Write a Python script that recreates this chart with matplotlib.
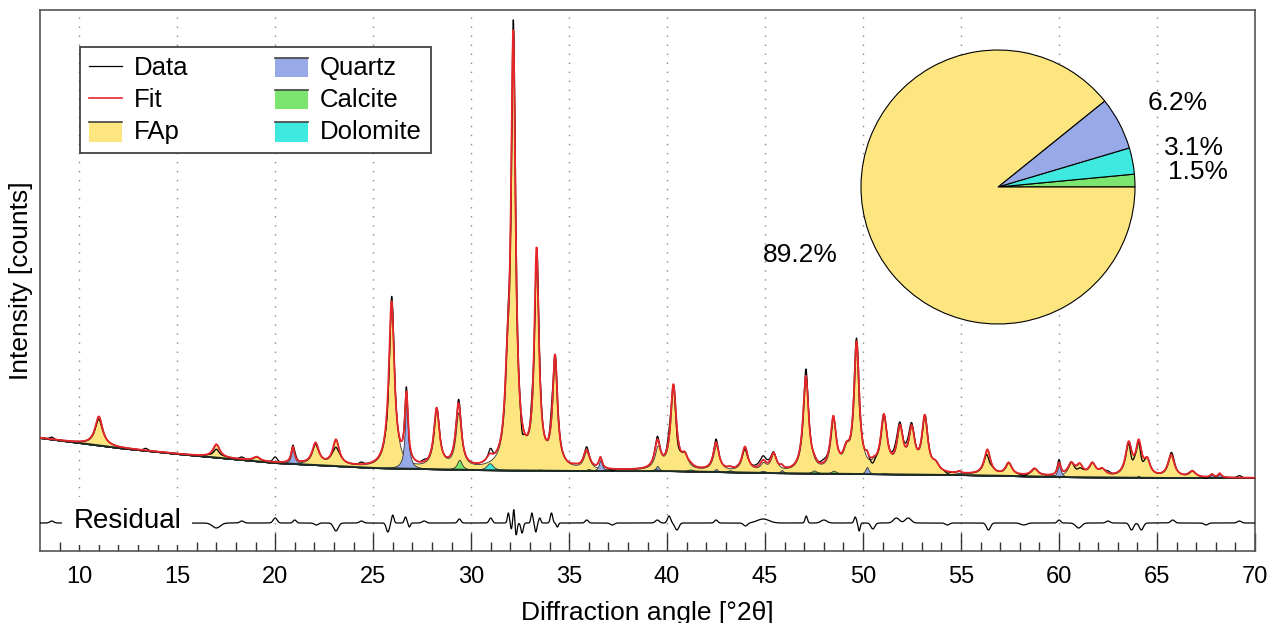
import numpy as np
import matplotlib
matplotlib.use("Agg")
import matplotlib.pyplot as plt
from matplotlib.patches import Patch, Rectangle
from matplotlib.lines import Line2D

plt.rcParams['font.family'] = ['Liberation Sans', 'DejaVu Sans']

# background nodes (deg, intensity)
bg_x = [8, 10, 12, 15, 20, 25, 30, 35, 40, 45, 50, 55, 60, 65, 70]
bg_y = [113, 108, 103, 97, 88, 83, 81, 80, 80, 78, 77, 76, 74, 73, 73]

# phase peak lists: position [deg 2theta], height above background, FWHM
fap_pos = [11.0, 17.0, 19.05, 22.06, 23.1, 25.94, 28.24, 29.35, 31.85, 32.15,
           33.34, 34.28, 35.88, 39.52, 40.32, 40.9, 42.5, 43.97, 44.9, 45.43,
           47.08, 48.48, 49.15, 49.67, 50.55, 51.06, 51.88, 52.48, 53.15, 53.7,
           56.34, 57.43, 58.75, 60.62, 61.05, 61.7, 62.2, 63.55, 64.07, 64.5,
           65.72, 66.8]
fap_h = [29, 13, 4, 21, 25, 165, 58, 54, 60, 424,
         213, 109, 17, 21, 84, 11, 25, 24, 7, 17,
         95, 49, 16, 127, 4, 53, 41, 40, 54, 7,
         25, 12, 7, 12, 10, 12, 6, 32, 30, 14,
         22, 6]
fap_w = [0.46, 0.42, 0.4, 0.4, 0.4, 0.34, 0.34, 0.34, 0.3, 0.28,
         0.28, 0.3, 0.36, 0.36, 0.34, 0.36, 0.36, 0.36, 0.36, 0.36,
         0.34, 0.34, 0.4, 0.32, 0.4, 0.38, 0.38, 0.38, 0.36, 0.4,
         0.38, 0.38, 0.4, 0.4, 0.4, 0.4, 0.4, 0.38, 0.36, 0.36,
         0.4, 0.4]

qtz_pos = [20.9, 26.7, 36.6, 39.5, 42.5, 45.85, 50.2, 54.9, 60.0, 64.05, 67.8, 68.2]
qtz_h = [16, 68, 11, 5, 3, 3, 7, 2, 12, 2, 3, 4]
qtz_w = 0.2

cal_pos = [29.4, 36.0, 39.4, 43.2, 47.5, 48.5]
cal_h = [10, 2, 2, 2, 3, 3]
cal_w = 0.3

dol_pos = [30.95, 33.5, 35.3, 41.2, 44.9, 51.1]
dol_h = [7, 1, 1, 2, 2, 1]
dol_w = 0.4

# residual (data - fit) features: position, amplitude, width
res_pos = [8.6, 11.0, 13.4, 17.0, 18.3, 20.0, 21.0, 22.1, 23.1, 24.4,
           25.75, 26.0, 26.65, 26.85, 27.6, 29.4, 31.0, 31.9, 32.05, 32.18,
           32.3, 32.6, 33.1, 33.3, 33.5, 34.1, 34.4, 35.9, 37.2, 39.5,
           40.1, 40.5, 42.5, 44.0, 44.9, 47.1, 48.0, 49.6, 49.8, 50.5,
           51.7, 52.3, 54.3, 56.4, 58.2, 60.0, 61.0, 62.5, 63.7, 64.2,
           65.8, 67.5, 69.2]
res_a = [2, -3, 2, -5, 2, 5, 3, -2, -8, 2,
         -9, 8, 6, -4, 2, 4, 5, 10, -6, 14,
         -12, -10, 10, -9, 5, 10, -4, 3, -2, 3,
         7, -7, 3, -3, 4, 7, 3, 6, -8, -6,
         5, 5, -2, -7, -2, 3, -5, 2, -7, -7,
         3, -2, 2]
res_w = [0.1, 0.15, 0.1, 0.2, 0.1, 0.1, 0.08, 0.1, 0.12, 0.1,
         0.08, 0.06, 0.06, 0.05, 0.1, 0.08, 0.08, 0.05, 0.04, 0.04,
         0.05, 0.06, 0.05, 0.05, 0.05, 0.06, 0.05, 0.08, 0.1, 0.1,
         0.08, 0.1, 0.08, 0.1, 0.3, 0.06, 0.15, 0.06, 0.05, 0.1,
         0.15, 0.15, 0.1, 0.1, 0.15, 0.08, 0.15, 0.1, 0.1, 0.1,
         0.1, 0.1, 0.1]
res_offset = 28

phases = ['FAp', 'Quartz', 'Calcite', 'Dolomite']
fractions = [89.2, 6.2, 1.5, 3.1]
colors = {'FAp': '#fde680', 'Quartz': '#97a9e6', 'Calcite': '#7ce56f', 'Dolomite': '#3ee9e0'}


def profile(x, pos, h, w):
    w = np.broadcast_to(w, len(pos))
    y = np.zeros_like(x)
    for p, a, fw in zip(pos, h, w):
        y += a / (1 + ((x - p) / (fw / 2)) ** 2)
    return y


x = np.arange(8, 70.001, 0.01)
bg = np.interp(x, bg_x, bg_y)
comp = {
    'FAp': profile(x, fap_pos, fap_h, fap_w),
    'Quartz': profile(x, qtz_pos, qtz_h, qtz_w),
    'Calcite': profile(x, cal_pos, cal_h, cal_w),
    'Dolomite': profile(x, dol_pos, dol_h, dol_w),
}
fit = bg + sum(comp.values())
resid = np.zeros_like(x)
for p, a, w in zip(res_pos, res_a, res_w):
    resid += a * np.exp(-0.5 * ((x - p) / w) ** 2)
data = fit + resid

fig = plt.figure(figsize=(12.71, 6.23), dpi=100)
ax = fig.add_axes([40 / 1271, 72 / 623, 1215 / 1271, 541 / 623])

for xv in range(10, 70, 5):
    ax.axvline(xv, color='#888888', lw=1, ls=(0, (1, 5.5)), zorder=0)

for name in phases:
    ax.fill_between(x, bg, bg + comp[name], facecolor=colors[name],
                    edgecolor='#333333', lw=0.6, zorder=2)
ax.plot(x, bg, color='#1c2b24', lw=1.4, zorder=3)
ax.plot(x, data, color='black', lw=0.9, zorder=4)
ax.plot(x, fit, color='#e8262a', lw=1.3, zorder=5)

ax.plot(x, res_offset + resid, color='black', lw=0.9, zorder=4)
ax.text(12.45, res_offset + 2, 'Residual', fontsize=20, ha='center', va='center', zorder=6,
        bbox=dict(boxstyle='square,pad=0.4', fc='white', ec='none'))

ax.set_xlim(8, 70)
ax.set_ylim(0, 541)
ax.set_xticks(range(10, 71, 5))
ax.set_xticks(range(9, 70), minor=True)
ax.set_yticks([])
ax.tick_params(axis='x', which='major', direction='in', length=13, width=1,
               color='#333333', labelsize=17, pad=11)
ax.tick_params(axis='x', which='minor', direction='in', length=6.5, width=1, color='#333333')
for s in ax.spines.values():
    s.set_color('#555555')
    s.set_linewidth(1.2)

ax.set_xlabel('Diffraction angle [°2θ]', fontsize=19)
ax.xaxis.set_label_coords(0.5, -0.092)
ax.set_ylabel('Intensity [counts]', fontsize=19)
ax.yaxis.set_label_coords(-0.006, 0.5)


class AreaHandler:
    def legend_artist(self, legend, orig_handle, fontsize, handlebox):
        x0, y0 = handlebox.xdescent, handlebox.ydescent
        w, h = handlebox.width, handlebox.height
        tr = handlebox.get_transform()
        rect = Rectangle((x0, y0 - 1), w, h + 2, facecolor=orig_handle.get_facecolor(),
                         edgecolor='none', transform=tr)
        top = Line2D([x0, x0 + w], [y0 + h + 1, y0 + h + 1], color='#444444', lw=1.2, transform=tr)
        handlebox.add_artist(rect)
        handlebox.add_artist(top)
        return rect


handles = [Line2D([], [], color='black', lw=0.9),
           Line2D([], [], color='#e8262a', lw=1.2),
           Patch(facecolor=colors['FAp']),
           Patch(facecolor=colors['Quartz']),
           Patch(facecolor=colors['Calcite']),
           Patch(facecolor=colors['Dolomite'])]
labels = ['Data', 'Fit', 'FAp', 'Quartz', 'Calcite', 'Dolomite']
leg = ax.legend(handles, labels, ncol=2, loc='upper left', bbox_to_anchor=(0.033, 0.932),
                fontsize=18.5, handlelength=1.28, handleheight=0.6, handletextpad=0.45,
                columnspacing=3.4, labelspacing=0.32, borderpad=0.35, borderaxespad=0,
                fancybox=False, framealpha=1, edgecolor='#333333',
                handler_map={Patch: AreaHandler()})
leg.get_frame().set_linewidth(1.2)

# composition pie
pax = fig.add_axes([861 / 1271, 299 / 623, 274 / 1271, 274 / 623])
order = ['Calcite', 'Dolomite', 'Quartz', 'FAp']
vals = [fractions[phases.index(n)] for n in order]
pax.pie(vals, colors=[colors[n] for n in order], startangle=0, counterclock=True,
        wedgeprops=dict(edgecolor='black', linewidth=0.8))
pax.set_xlim(-1, 1)
pax.set_ylim(-1, 1)
label_xy = {'Calcite': (1.46, 0.11), 'Dolomite': (1.43, 0.285),
            'Quartz': (1.31, 0.61), 'FAp': (-1.44, -0.5)}
for n, v in zip(order, vals):
    pax.text(*label_xy[n], f'{v:.1f}%', fontsize=19, ha='center', va='center', clip_on=False)

fig.savefig('out.png', dpi=100)
